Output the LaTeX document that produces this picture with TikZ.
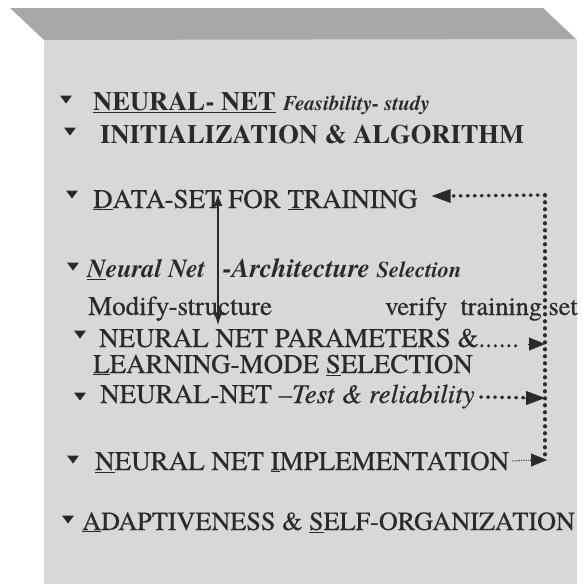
\documentclass[tikz,border=0pt]{standalone}
\usepackage{fontspec}
\setmainfont{TeX Gyre Termes}
\newfontfamily\heavyrm{TeX Gyre Termes}[FakeBold=0.5]
\usetikzlibrary{arrows.meta,calc}
\definecolor{ink}{HTML}{2A2A2A}
\definecolor{panel}{HTML}{D8D8D8}
\definecolor{band}{HTML}{A8A8A8}
\newcommand\fR{\heavyrm\fontsize{27}{30}\selectfont}
\newcommand\fRs{\heavyrm\fontsize{26.2}{30}\selectfont}
\newcommand\fB{\fontsize{26.5}{30}\selectfont\bfseries}
\newcommand\fBI{\fontsize{26}{30}\selectfont\bfseries\itshape}
\newcommand\fsmallBI{\fontsize{21}{24}\selectfont\bfseries\itshape}
\newcommand\mytri[2]{\fill[ink] (#1-6,#2-3.5) -- (#1+6,#2-3.5) -- (#1,#2+4.5) -- cycle;}
\begin{document}
\begin{tikzpicture}[x=1pt,y=-1pt,
  txt/.style={anchor=base west, inner sep=0pt, text=ink},
  bigdots/.style={draw=ink, line width=3.6pt, dash pattern=on 0.6pt off 6.4pt, line cap=round},
  finedots/.style={draw=ink, line width=1pt, dash pattern=on 1pt off 1.2pt},
  solidarrow/.style={draw=ink, line width=1.4pt, {Latex[length=12pt,width=9pt]}-{Latex[length=12pt,width=9pt]}},
  bighead/.style={-{Triangle[length=19pt,width=14pt]}},
  midhead/.style={-{Triangle[length=16pt,width=13pt]}}]
\useasboundingbox (0,0) rectangle (583,584);
\fill[white] (0,0) rectangle (583,584);
\fill[panel] (44,39) rectangle (577,584);
\fill[band] (10,8) -- (543,8) -- (576,39) -- (44,40) -- cycle;

% bullets
\mytri{66}{99}
\mytri{70}{131}
\mytri{72}{194}
\mytri{73}{266}
\mytri{80}{334}
\mytri{80}{396}
\mytri{73}{459}
\mytri{68}{519}

% texts
\node[txt, font=\fB] (l1) at (93,110) {\underline{NEURAL- NET}};
\node[txt, font=\fsmallBI, anchor=base west] (l1b) at ($(l1.base east)+(7,0)$) {Feasibility- study};
\node[txt, font=\fB] (l2) at (100,143) {INITIALIZATION \& ALGORITHM};
\node[txt, font=\fR] (l3) at (93,208) {\underline{D}ATA-SET FOR \underline{T}RAINING};
\node[txt, font=\fBI] (l4) at (87,277) {\underline{N}eural Net};
\node[txt, font=\fBI] (l4b) at (223,277) {\fontsize{27}{30}\selectfont -Architecture {\fontsize{22.5}{24}\selectfont Selection}};
\node[txt, font=\fR] (l5) at (88,315) {Modify-structure};
\node[txt, font=\fRs] (l5b) at (385,315) {verify\ \ training set};
\node[txt, font=\fR] (l6) at (99,347) {NEURAL NET PARAMETERS \&......};
\node[txt, font=\fR] (l7) at (93,373) {\underline{L}EARNING-MODE \underline{S}ELECTION};
\node[txt, font=\fR] (l8) at (100,403) {NEURAL-NET –\textit{Test \& reliability}};
\node[txt, font=\fR] (l9) at (95,470) {\underline{N}EURAL NET \underline{I}MPLEMENTATION};
\node[txt, font=\fRs] (l10) at (82,530) {\underline{A}DAPTIVENESS \& \underline{S}ELF-ORGANIZATION};

% connectors
\coordinate (ctop) at (545,195);
\coordinate (c6) at (545,344);
\coordinate (c8) at (545,398);
\coordinate (c9) at (547,460);
\coordinate (va) at (218,194);
\coordinate (vb) at (218,325);

\draw[solidarrow] (va) -- (vb);
\draw[bigdots] (ctop) -- (545,455);
\draw[bigdots] (ctop) -- ($(l3.base east)+(30,-12)$);
\fill[ink] ($(l3.base east)+(14,-12)$) -- ($(l3.base east)+(33,-19)$) -- ($(l3.base east)+(33,-5)$) -- cycle;
\draw[midhead, draw=ink, fill=ink, line width=0.1pt] ($(c6)+(-17,0)$) -- (c6);
\draw[bigdots, shorten >=20pt] ($(l8.base east)+(6,-6)$) -- (c8);
\draw[bighead, draw=ink, fill=ink, line width=0.1pt] ($(c8)+(-20,0)$) -- (c8);
\draw[finedots] ($(l9.base east)+(3,-9)$) -- ($(c9)+(-15,0)$);
\draw[midhead, draw=ink, fill=ink, line width=0.1pt] ($(c9)+(-17,0)$) -- (c9);
\end{tikzpicture}
\end{document}
